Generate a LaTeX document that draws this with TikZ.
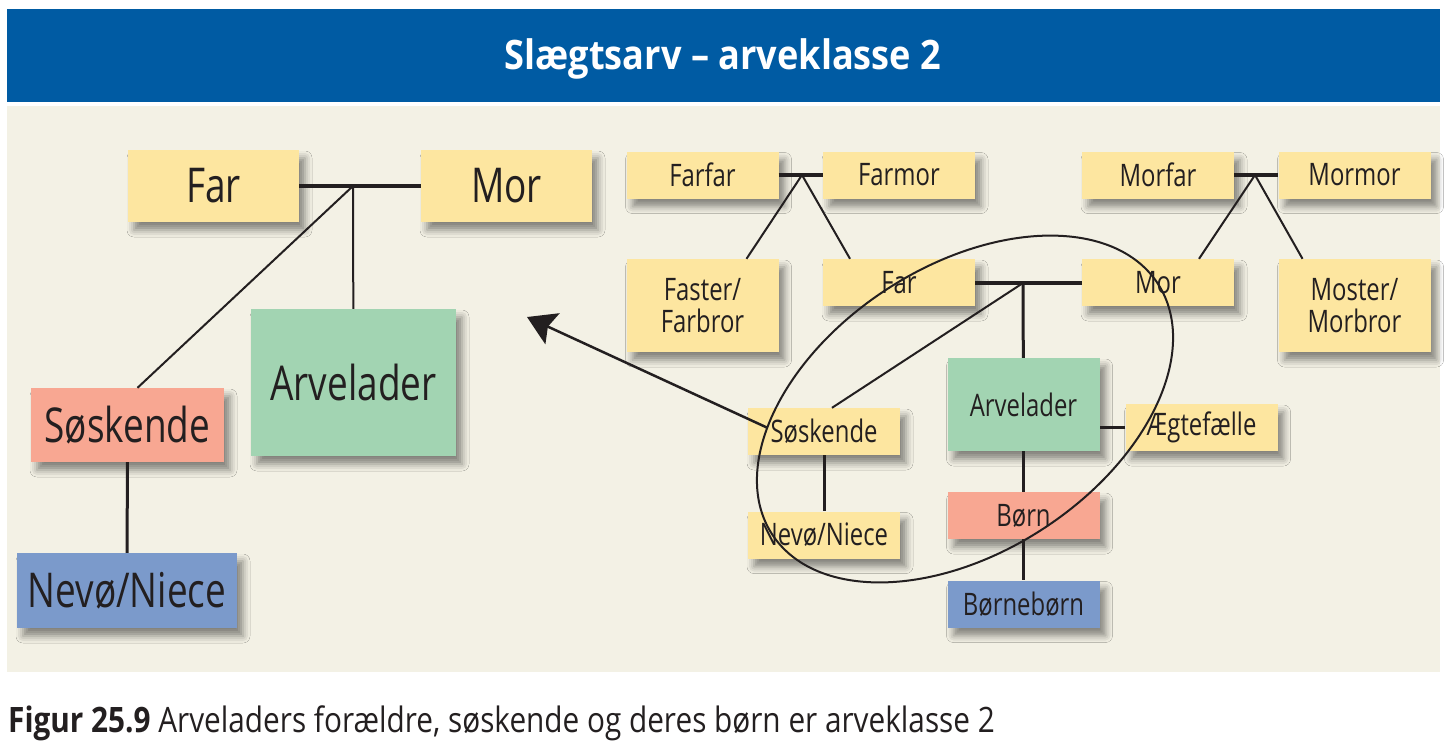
\documentclass[tikz,border=0pt]{standalone}
\usepackage{fontspec}
\setmainfont{Open Sans}[FakeStretch=0.77]
\newfontfamily\captionface{Open Sans}[FakeStretch=0.85]
\newfontfamily\titleface{Open Sans}[FakeStretch=0.89]
\usepackage{xcolor}
\usepackage{tikz}
\usetikzlibrary{arrows.meta,shadows.blur}

\definecolor{barblue}{RGB}{0,91,163}
\definecolor{paper}{RGB}{243,241,229}
\definecolor{boxyellow}{RGB}{253,230,160}
\definecolor{boxgreen}{RGB}{162,212,178}
\definecolor{boxred}{RGB}{248,167,146}
\definecolor{boxblue}{RGB}{123,154,203}
\definecolor{ink}{RGB}{35,31,32}

\begin{document}
\begin{tikzpicture}[x=1pt,y=-1pt,
  box/.style={inner sep=0pt, text=ink, align=center,
    blur shadow={shadow xshift=6pt, shadow yshift=-8pt,
      shadow blur radius=7pt, shadow opacity=45}},
  big/.style={box, font=\fontsize{48}{52}\selectfont},
  small/.style={box, font=\fontsize{31}{32}\selectfont,
    minimum width=152pt, minimum height=47pt},
  tall/.style={small, minimum height=93pt},
  link/.style={draw=ink, line width=2pt},
  stem/.style={draw=ink, line width=3pt},
  couple/.style={draw=ink, line width=4pt}]
  \useasboundingbox[fill=white] (0,0) rectangle (1453,748);
  \fill[barblue] (7,9) rectangle (1440,102);
  \fill[paper] (7,106) rectangle (1440,672);
  \node[anchor=base, text=white, font=\titleface\bfseries\fontsize{40.6}{44}\selectfont]
    (title) at (723,69) {Slægtsarv – arveklasse 2};

  % left tree
  \node[big, fill=boxyellow, minimum width=171pt, minimum height=72pt] (far1) at (213.5,186) {Far};
  \node[big, fill=boxyellow, minimum width=171pt, minimum height=72pt] (mor1) at (506.5,186) {Mor};
  \node[big, fill=boxgreen, minimum width=205pt, minimum height=147pt] (arv1) at (353.5,382.5) {Arvelader};
  \node[big, fill=boxred, minimum width=193pt, minimum height=74pt] (sos1) at (127.5,425) {Søskende};
  \node[big, fill=boxblue, minimum width=220pt, minimum height=75pt] (nev1) at (127,590.5) {Nevø/Niece};
  \coordinate (j1) at (353,186);
  \draw[couple] (far1) -- (mor1);
  \draw[link] (j1) -- (arv1);
  \draw[link] (j1) -- ([xshift=10pt]sos1.north);
  \draw[stem] (sos1) -- (nev1);

  % right tree
  \node[small, fill=boxyellow] (farfar) at (702.5,175) {Farfar};
  \node[small, fill=boxyellow] (farmor) at (899,175) {Farmor};
  \node[small, fill=boxyellow] (morfar) at (1158,175) {Morfar};
  \node[small, fill=boxyellow] (mormor) at (1354.5,175) {Mormor};
  \node[tall, fill=boxyellow] (faster) at (702.5,305.5) {Faster/\\Farbror};
  \node[small, fill=boxyellow] (far2) at (899,282.5) {Far};
  \node[small, fill=boxyellow] (mor2) at (1158,282.5) {Mor};
  \node[tall, fill=boxyellow] (moster) at (1354.5,305.5) {Moster/\\Morbror};
  \node[small, fill=boxyellow] (sos2) at (824,431.5) {Søskende};
  \node[small, fill=boxyellow] (nev2) at (824,535) {Nevø/Niece};
  \node[tall, fill=boxgreen] (arv2) at (1023.5,404.5) {Arvelader};
  \node[small, fill=boxyellow] (aegt) at (1201.5,427.5) {Ægtefælle};
  \node[small, fill=boxred] (born) at (1023.5,515.5) {Børn};
  \node[small, fill=boxblue] (bb) at (1023.5,604) {Børnebørn};

  \coordinate (j2) at (802,175);
  \coordinate (j3) at (1255,175);
  \coordinate (j4) at (1023,283);
  \draw[couple] (farfar) -- (farmor);
  \draw[link] (j2) -- ([xshift=44pt]faster.north);
  \draw[link] (j2) -- ([xshift=-49pt]far2.north);
  \draw[couple] (morfar) -- (mormor);
  \draw[link] (j3) -- ([xshift=41pt]mor2.north);
  \draw[link] (j3) -- ([xshift=-52pt]moster.north);
  \draw[couple] (far2) -- (mor2);
  \draw[stem] (j4) -- (arv2);
  \draw[link] (j4) -- ([xshift=8pt]sos2.north);
  \draw[stem] (sos2) -- (nev2);
  \draw[stem] (arv2) -- (born);
  \draw[stem] (born) -- (bb);
  \draw[stem] (aegt.west) -- (arv2.east |- aegt.west);

  % arrow and ring
  \coordinate (tip) at (527,317);
  \draw[ink, line width=2.5pt, -{Stealth[length=28pt,width=34pt,inset=5pt]}]
    ([shift={(19,-4)}]sos2.west) -- (tip);
  \draw[ink, line width=2pt, rotate around={33:(965,409)}]
    (965,409) ellipse [x radius=230, y radius=143];

  \node[anchor=base west, inner sep=0pt, text=ink, font=\captionface\fontsize{35}{40}\selectfont]
    (caption) at (8,732) {\textbf{Figur 25.9} Arveladers forældre, søskende og deres børn er arveklasse 2};
\end{tikzpicture}
\end{document}
